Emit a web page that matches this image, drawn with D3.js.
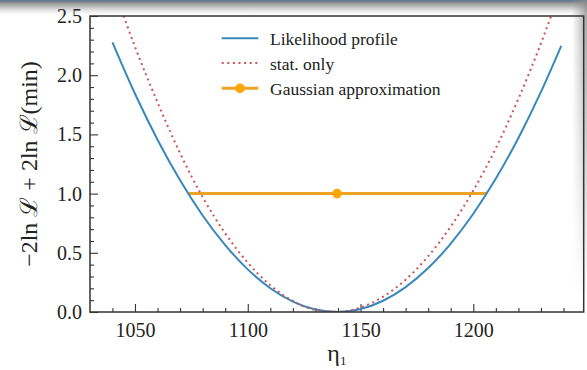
<!DOCTYPE html>
<html>
<head>
<meta charset="utf-8">
<script src="https://cdn.jsdelivr.net/npm/d3@7"></script>
<style>
  html, body { margin: 0; padding: 0; background: #ffffff; }
  svg { display: block; }
  text { font-family: "Liberation Serif", "DejaVu Serif", serif; fill: #222; }
</style>
</head>
<body>
<svg id="chart" width="587" height="370"></svg>
<script>
// Scan positions of eta_1
const etaBlue = [1040, 1050, 1060, 1070, 1080, 1090, 1100, 1110, 1120, 1130, 1140,
                 1150, 1160, 1170, 1180, 1190, 1200, 1210, 1220, 1230, 1239];
// -2 ln L + 2 ln L(min), full likelihood profile
const nllProfile = [2.277, 1.843, 1.455, 1.112, 0.815, 0.565, 0.360, 0.201, 0.088, 0.021, 0.000,
                    0.025, 0.095, 0.210, 0.371, 0.578, 0.830, 1.127, 1.470, 1.859, 2.248];

const etaStat = [1040, 1050, 1060, 1070, 1080, 1090, 1100, 1110, 1120, 1130, 1140,
                 1150, 1160, 1170, 1180, 1190, 1200, 1210, 1220, 1230, 1240];
// Statistical-only profile
const nllStat = [2.77, 2.24, 1.77, 1.34, 0.97, 0.664, 0.416, 0.226, 0.093, 0.018, 0.001,
                 0.038, 0.129, 0.273, 0.471, 0.722, 1.026, 1.384, 1.80, 2.27, 2.79];

// Gaussian approximation: best fit with one-sigma interval
const gaussCenter = [1139.6];
const gaussInterval = [1073.6, 1205.9];
const gaussLevel = [1.0];

const xMajorTicks = [1050, 1100, 1150, 1200];
const xMinorTicks = d3.range(1040, 1241, 10).filter(v => v % 50 !== 0);
const yMajorTicks = [0, 0.5, 1.0, 1.5, 2.0, 2.5];
const yMinorTicks = d3.range(1, 25).filter(i => i % 5 !== 0).map(i => i / 10);

const legendLabels = ["Likelihood profile", "stat. only", "Gaussian approximation"];

const colBlue = "#3888bd";
const colRed = "#cf5256";
const colOrange = "#f0a224";
const colMarker = "#ffa500";

const svg = d3.select("#chart");
const W = 587, H = 370;
const mLeft = 90, mRight = 583.7, mTop = 16, mBottom = 312;

// window edge shading
const defs = svg.append("defs");
const gTop = defs.append("linearGradient").attr("id", "topShade")
  .attr("x1", 0).attr("y1", 0).attr("x2", 0).attr("y2", 1);
gTop.append("stop").attr("offset", 0).attr("stop-color", "#5d7898");
gTop.append("stop").attr("offset", 0.09).attr("stop-color", "#6f7f90");
gTop.append("stop").attr("offset", 0.14).attr("stop-color", "#8e8e8e");
gTop.append("stop").attr("offset", 0.45).attr("stop-color", "#c8c8c8");
gTop.append("stop").attr("offset", 1).attr("stop-color", "#ffffff").attr("stop-opacity", 0);
svg.append("rect").attr("x", 0).attr("y", 0).attr("width", W).attr("height", 17)
  .attr("fill", "url(#topShade)");

const gRight = defs.append("linearGradient").attr("id", "rightShade")
  .attr("x1", 0).attr("y1", 0).attr("x2", 1).attr("y2", 0);
gRight.append("stop").attr("offset", 0).attr("stop-color", "#999").attr("stop-opacity", 0);
gRight.append("stop").attr("offset", 1).attr("stop-color", "#888").attr("stop-opacity", 0.8);
const gFade = defs.append("linearGradient").attr("id", "rightFade")
  .attr("x1", 0).attr("y1", 0).attr("x2", 0).attr("y2", 1);
gFade.append("stop").attr("offset", 0).attr("stop-color", "#fff").attr("stop-opacity", 1);
gFade.append("stop").attr("offset", 0.4).attr("stop-color", "#fff").attr("stop-opacity", 0.6);
gFade.append("stop").attr("offset", 1).attr("stop-color", "#fff").attr("stop-opacity", 0);
defs.append("mask").attr("id", "rightMask")
  .append("rect").attr("x", 570).attr("y", 0).attr("width", 17).attr("height", 300)
  .attr("fill", "url(#rightFade)");
svg.append("rect").attr("x", 572).attr("y", 0).attr("width", 15).attr("height", 300)
  .attr("fill", "url(#rightShade)").attr("mask", "url(#rightMask)");

const x = d3.scaleLinear().domain([1030.05, 1248.95]).range([mLeft, mRight]);
const y = d3.scaleLinear().domain([0, 2.5]).range([mBottom, mTop]);

defs.append("clipPath").attr("id", "plotClip")
  .append("rect").attr("x", mLeft).attr("y", mTop).attr("width", mRight - mLeft).attr("height", mBottom - mTop);

// axes: ticks pointing inward
const axisColor = "#333";
const fmt = d3.format(".1f");

const xAxis = svg.append("g").attr("transform", `translate(0,${mBottom})`)
  .call(d3.axisBottom(x).tickValues(xMajorTicks).tickSizeInner(-8).tickSizeOuter(0).tickPadding(11).tickFormat(d3.format("d")));
const xMinor = svg.append("g").attr("transform", `translate(0,${mBottom})`)
  .call(d3.axisBottom(x).tickValues(xMinorTicks).tickSizeInner(-4).tickSizeOuter(0).tickFormat(""));
const yAxis = svg.append("g").attr("transform", `translate(${mLeft},0)`)
  .call(d3.axisLeft(y).tickValues(yMajorTicks).tickSizeInner(-8).tickSizeOuter(0).tickPadding(8).tickFormat(fmt));
const yMinor = svg.append("g").attr("transform", `translate(${mLeft},0)`)
  .call(d3.axisLeft(y).tickValues(yMinorTicks).tickSizeInner(-4).tickSizeOuter(0).tickFormat(""));

[xAxis, xMinor, yAxis, yMinor].forEach(g => {
  g.select(".domain").remove();
  g.selectAll(".tick line").attr("stroke", axisColor).attr("stroke-width", 1.1);
  g.selectAll(".tick text").attr("font-size", 20).attr("fill", "#2a2a2a")
    .attr("font-family", "'Liberation Serif', 'DejaVu Serif', serif");
});

// plot
const plot = svg.append("g").attr("clip-path", "url(#plotClip)");
const line = d3.line().curve(d3.curveMonotoneX);

// Gaussian approximation interval
plot.append("line")
  .attr("x1", x(gaussInterval[0])).attr("x2", x(gaussInterval[1]))
  .attr("y1", y(gaussLevel[0])).attr("y2", y(gaussLevel[0]))
  .attr("stroke", colOrange).attr("stroke-width", 3);
plot.append("circle")
  .attr("cx", x(gaussCenter[0])).attr("cy", y(gaussLevel[0])).attr("r", 4.8)
  .attr("fill", colMarker);

plot.append("path")
  .attr("d", line(etaBlue.map((e, i) => [x(e), y(nllProfile[i])])))
  .attr("fill", "none").attr("stroke", colBlue).attr("stroke-width", 2);

plot.append("path")
  .attr("d", line(etaStat.map((e, i) => [x(e), y(nllStat[i])])))
  .attr("fill", "none").attr("stroke", colRed).attr("stroke-width", 2)
  .attr("stroke-dasharray", "2,3.6");

// frame
svg.append("rect").attr("x", mLeft).attr("y", mTop).attr("width", mRight - mLeft).attr("height", mBottom - mTop)
  .attr("fill", "none").attr("stroke", axisColor).attr("stroke-width", 1.5);

// legend
const legX0 = 221.7, legX1 = 258.3, legTextX = 270;
const legY = [38.3, 63, 88.3];
const leg = svg.append("g");
leg.append("line").attr("x1", legX0).attr("x2", legX1).attr("y1", legY[0]).attr("y2", legY[0])
  .attr("stroke", colBlue).attr("stroke-width", 2);
leg.append("line").attr("x1", legX0).attr("x2", legX1).attr("y1", legY[1]).attr("y2", legY[1])
  .attr("stroke", colRed).attr("stroke-width", 2).attr("stroke-dasharray", "2,3.6");
leg.append("line").attr("x1", legX0).attr("x2", legX1).attr("y1", legY[2]).attr("y2", legY[2])
  .attr("stroke", colOrange).attr("stroke-width", 3);
leg.append("circle").attr("cx", (legX0 + legX1) / 2).attr("cy", legY[2]).attr("r", 4.8).attr("fill", colMarker);
leg.selectAll("text.lab").data(legendLabels).join("text").attr("class", "lab")
  .attr("x", legTextX).attr("y", (d, i) => legY[i] + 6.5)
  .attr("font-size", 17.5).text(d => d);

// axis labels
const xl = svg.append("text").attr("x", (mLeft + mRight) / 2).attr("y", 361)
  .attr("text-anchor", "middle").attr("font-size", 24);
xl.append("tspan").text("η");
xl.append("tspan").attr("font-size", 13).attr("dy", 4).text("1");

svg.append("text")
  .attr("transform", `translate(37,${(mTop + mBottom) / 2}) rotate(-90)`)
  .attr("text-anchor", "middle").attr("font-size", 24)
  .text("−2ln ℒ + 2ln ℒ(min)");
</script>
</body>
</html>
